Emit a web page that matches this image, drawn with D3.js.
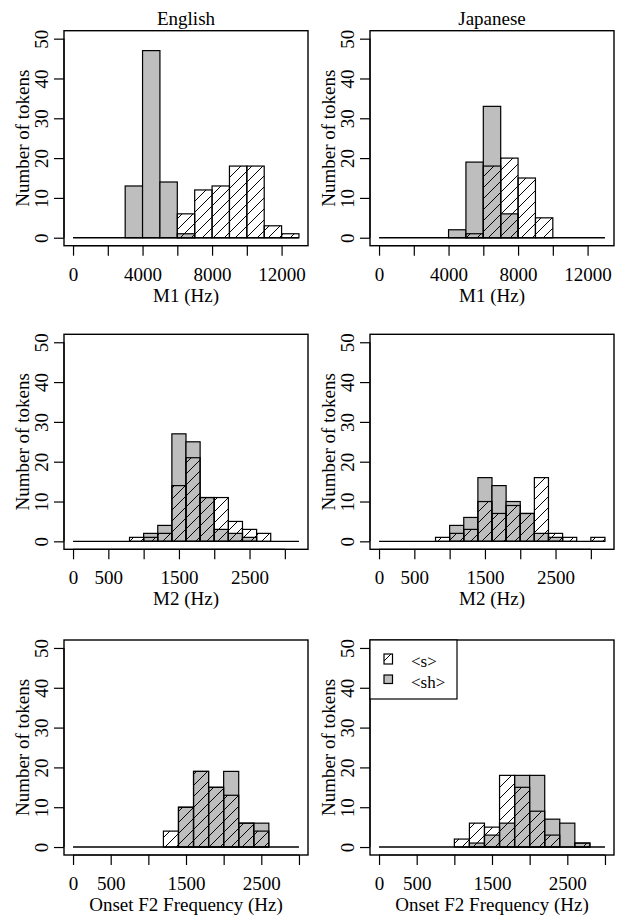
<!DOCTYPE html>
<html><head><meta charset="utf-8">
<script src="https://cdn.jsdelivr.net/npm/d3@7"></script>
<style>
body{margin:0;background:#fff}
svg{display:block}
text{font-family:"Liberation Serif","Times New Roman",serif;fill:#000}
</style>
</head><body>
<svg id="c" width="631" height="923"></svg>
<script>
// ---------- data ----------
const languages = ["English", "Japanese"];
const measureLabels = ["M1 (Hz)", "M2 (Hz)", "Onset F2 Frequency (Hz)"];
const binStarts = [0, 0, 0];
const binWidths = [1000, 200, 200];
const binEnds = [13000, 3200, 3000];
const xTickValues = [
  [0, 2000, 4000, 6000, 8000, 10000, 12000],
  [0, 500, 1000, 1500, 2000, 2500, 3000],
  [0, 500, 1000, 1500, 2000, 2500, 3000]
];
const xTickLabels = [
  ["0", "", "4000", "", "8000", "", "12000"],
  ["0", "500", "", "1500", "", "2500", ""],
  ["0", "500", "", "1500", "", "2500", ""]
];
const yTickValues = [0, 10, 20, 30, 40, 50];
const yLabel = "Number of tokens";
const legendLabels = ["<s>", "<sh>"];

// counts per bin (bins of binWidths from binStarts)
const englishM1_sh = [0,0,0,13,47,14,1,0,0,0,0,0,0];
const englishM1_s  = [0,0,0,0,0,0,6,12,13,18,18,3,1];
const japaneseM1_sh = [0,0,0,0,2,19,33,6,0,0,0,0,0];
const japaneseM1_s  = [0,0,0,0,0,1,18,20,15,5,0,0,0];

const englishM2_sh = [0,0,0,0,0,2,4,27,25,11,3,2,1,0,0,0];
const englishM2_s  = [0,0,0,0,1,1,2,14,21,11,11,5,3,2,0,0];
const japaneseM2_sh = [0,0,0,0,0,4,6,16,14,10,7,2,1,0,0,0];
const japaneseM2_s  = [0,0,0,0,1,2,3,10,7,9,7,16,2,1,0,1];

const englishF2_sh = [0,0,0,0,0,0,0,10,19,15,19,6,6,0,0];
const englishF2_s  = [0,0,0,0,0,0,4,10,19,15,13,6,4,0,0];
const japaneseF2_sh = [0,0,0,0,0,0,1,3,6,18,18,7,6,1,0];
const japaneseF2_s  = [0,0,0,0,0,2,6,5,18,15,9,3,0,1,0];

const panelData = [
  [[englishM1_sh, englishM1_s], [japaneseM1_sh, japaneseM1_s]],
  [[englishM2_sh, englishM2_s], [japaneseM2_sh, japaneseM2_s]],
  [[englishF2_sh, englishF2_s], [japaneseF2_sh, japaneseF2_s]]
];

// ---------- layout ----------
const colLeft = [64, 370];
const rowTop = [30.7, 334.3, 640];
const PW = 244, PH = 215;
const GRAY = "#bebebe";
const FS = 19;
const FONT = "'Liberation Serif', 'Times New Roman', serif";

const svg = d3.select("#c");
svg.append("rect").attr("width", 631).attr("height", 923).attr("fill", "#fff");

const defs = svg.append("defs");
const hp = 11;
const pat = defs.append("pattern").attr("id", "hatch")
  .attr("patternUnits", "userSpaceOnUse").attr("width", hp).attr("height", hp);
pat.append("path")
  .attr("d", `M0,${hp} L${hp},0 M${-hp/2},${hp/2} L${hp/2},${-hp/2} M${hp/2},${hp*1.5} L${hp*1.5},${hp/2}`)
  .attr("stroke", "#000").attr("stroke-width", 1);

languages.forEach((lang, c) => {
  svg.append("text").attr("x", colLeft[c] + PW / 2).attr("y", 25)
    .attr("text-anchor", "middle").attr("font-size", FS).attr("font-family", FONT).text(lang);
});

for (let r = 0; r < 3; r++) {
  for (let c = 0; c < 2; c++) {
    const L = colLeft[c], T = rowTop[r];
    const xmin = binStarts[r], xmax = binEnds[r], span = xmax - xmin;
    const x = d3.scaleLinear().domain([xmin - 0.04 * span, xmax + 0.04 * span]).range([L, L + PW]);
    const y = d3.scaleLinear().domain([-2, 52]).range([T + PH, T]);
    const g = svg.append("g");
    const [sh, s] = panelData[r][c];
    const bw = binWidths[r];

    // gray <sh> bars
    g.selectAll("rect.sh").data(sh.map((v, i) => ({v, i})).filter(d => d.v > 0))
      .join("rect").attr("class", "sh")
      .attr("x", d => x(xmin + d.i * bw)).attr("width", d => x(xmin + (d.i + 1) * bw) - x(xmin + d.i * bw))
      .attr("y", d => y(d.v)).attr("height", d => y(0) - y(d.v))
      .attr("fill", GRAY).attr("stroke", "#000").attr("stroke-width", 1.2);
    // hatched <s> bars
    g.selectAll("rect.s").data(s.map((v, i) => ({v, i})).filter(d => d.v > 0))
      .join("rect").attr("class", "s")
      .attr("x", d => x(xmin + d.i * bw)).attr("width", d => x(xmin + (d.i + 1) * bw) - x(xmin + d.i * bw))
      .attr("y", d => y(d.v)).attr("height", d => y(0) - y(d.v))
      .attr("fill", "url(#hatch)").attr("stroke", "#000").attr("stroke-width", 1.2);
    // zero baseline across histogram range
    g.append("line").attr("x1", x(xmin)).attr("x2", x(xmax)).attr("y1", y(0)).attr("y2", y(0))
      .attr("stroke", "#000").attr("stroke-width", 1.4);

    // box
    g.append("rect").attr("x", L).attr("y", T).attr("width", PW).attr("height", PH)
      .attr("fill", "none").attr("stroke", "#000").attr("stroke-width", 1.4);

    // x axis
    const labs = xTickLabels[r];
    const xa = d3.axisBottom(x).tickValues(xTickValues[r]).tickSize(10).tickPadding(11.5)
      .tickFormat((d, i) => labs[i]);
    const gx = g.append("g").attr("transform", `translate(0,${T + PH})`).call(xa)
      .attr("font-family", FONT).attr("font-size", FS);
    gx.select(".domain").attr("stroke-width", 1.2).attr("d", `M${x(xTickValues[r][0])},0H${x(xTickValues[r][xTickValues[r].length-1])}`);
    gx.selectAll(".tick line").attr("stroke-width", 1.2);
    gx.selectAll(".tick text").attr("font-size", FS).attr("font-family", FONT).attr("dy", "0.71em");

    // y axis
    const ya = d3.axisLeft(y).tickValues(yTickValues).tickSize(10).tickFormat(d3.format("d"));
    const gy = g.append("g").attr("transform", `translate(${L},0)`).call(ya)
      .attr("font-family", FONT).attr("font-size", FS);
    gy.select(".domain").attr("stroke-width", 1.2).attr("d", `M0,${y(0)}V${y(50)}`);
    gy.selectAll(".tick line").attr("stroke-width", 1.2);
    gy.selectAll(".tick text").attr("font-size", FS).attr("font-family", FONT)
      .attr("x", null).attr("dy", null)
      .attr("text-anchor", "middle")
      .attr("transform", "translate(-16,0) rotate(-90)");

    // axis titles
    g.append("text").attr("x", L + PW / 2).attr("y", T + PH + 56)
      .attr("text-anchor", "middle").attr("font-size", FS).attr("font-family", FONT).text(measureLabels[r]);
    g.append("text").attr("transform", `translate(${L - 35},${T + PH / 2}) rotate(-90)`)
      .attr("text-anchor", "middle").attr("font-size", FS).attr("font-family", FONT).text(yLabel);

    // legend
    if (r === 2 && c === 1) {
      const lg = g.append("g");
      lg.append("rect").attr("x", L).attr("y", T).attr("width", 87).attr("height", 59)
        .attr("fill", "#fff").attr("stroke", "#000").attr("stroke-width", 1.2);
      lg.append("rect").attr("x", L + 14).attr("y", T + 14).attr("width", 8.5).attr("height", 10)
        .attr("fill", "url(#hatch)").attr("stroke", "#000").attr("stroke-width", 1.2);
      lg.append("rect").attr("x", L + 14).attr("y", T + 35).attr("width", 8.5).attr("height", 8.5)
        .attr("fill", GRAY).attr("stroke", "#000").attr("stroke-width", 1.2);
      lg.append("text").attr("x", L + 41).attr("y", T + 27).attr("font-size", 17).attr("font-family", FONT).text(legendLabels[0]);
      lg.append("text").attr("x", L + 41).attr("y", T + 48).attr("font-size", 17).attr("font-family", FONT).text(legendLabels[1]);
    }
  }
}
</script>
</body></html>
